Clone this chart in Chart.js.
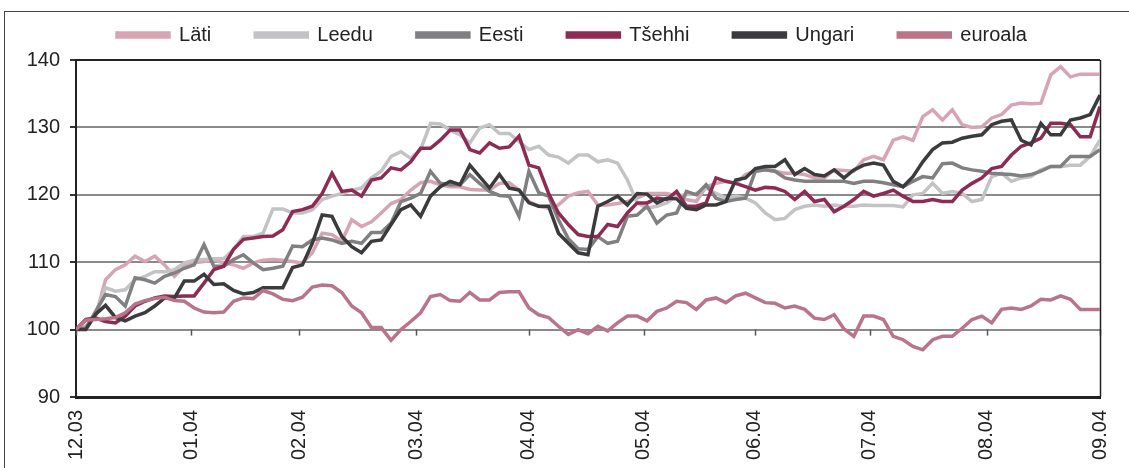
<!DOCTYPE html>
<html>
<head>
<meta charset="utf-8">
<script src="https://cdn.jsdelivr.net/npm/chart.js@4.4.1/dist/chart.umd.min.js"></script>
<style>
  body { margin: 0; background: #fff; }
  #wrap { position: relative; width: 1129px; height: 468px; overflow: hidden; }
  #frame { position: absolute; left: 4px; top: 11px; width: 1200px; height: 500px;
           border-top: 1.5px solid #444; border-left: 1.5px solid #444; pointer-events: none; }
</style>
</head>
<body>
<div id="wrap">
  <canvas id="myChart" width="1129" height="468"></canvas>
  <div id="frame"></div>
</div>
<script>
// kuu algused x-teljel (punkti indeksid)
const monthLabels = ['12.03', '01.04', '02.04', '03.04', '04.04', '05.04', '06.04', '07.04', '08.04', '09.04'];
const monthPos = [0, 11.69, 22.68, 34.57, 45.96, 57.65, 68.94, 80.63, 92.52, 104];
const yTicks = [90, 100, 110, 120, 130, 140];

const seriesNames = ['Läti', 'Leedu', 'Eesti', 'Tšehhi', 'Ungari', 'euroala'];
const seriesColors = ['#d6a4b2', '#c3c3c5', '#808083', '#8e2b55', '#3b3b3d', '#b97489'];

const lati = [100,100.5,102,107.4,108.9,109.6,110.9,110.1,110.9,109.6,107.9,109.4,109.9,110.1,110.3,109.9,109.6,109.1,109.9,110.3,110.4,110.3,110.1,109.9,111.4,114.3,114.1,
  113.1,116.3,115.3,116,117.3,118.7,119.3,120.7,121.8,122,121.5,121.2,121.2,120.8,120.7,120.7,121.7,121.8,120.7,119,118.3,118,118.5,119.8,120.3,120.5,
  118.5,118.5,118.7,119,119.5,120.2,120.2,120.2,119.8,119.3,119,121.2,121.7,122,121.7,123,123.5,123.7,123.5,123.2,123.2,123,122.5,122.5,123.7,123.6,
  123.5,125.2,125.7,125.2,128.1,128.6,128.1,131.6,132.6,131.1,132.6,130.4,130,130.1,131.4,131.9,133.3,133.6,133.5,133.6,137.8,139,137.5,137.9,137.9,137.9];

const leedu = [100,100.2,102.5,106.2,105.7,105.9,107.4,107.9,108.6,108.6,108.9,109.9,110.3,110.4,110.5,110.5,111.9,113.8,113.8,114.3,117.9,117.9,117.3,117.3,117.8,119.3,119.8,
  120.2,120.7,121,122.5,123.5,125.7,126.4,125.4,126.7,130.6,130.5,129.6,128.9,127.7,129.9,130.4,129.1,129.1,127.9,126.7,127.2,125.9,125.6,124.7,125.9,125.9,
  124.9,125.2,124.7,122.2,118.8,118,118.3,118.8,119.8,120,120.2,121,120.2,119.5,119.8,119.5,118.8,117.3,116.3,116.5,117.8,118.3,118.5,118.3,118.5,118.3,
  118.3,118.5,118.4,118.4,118.4,118.2,120,120.2,121.7,120.2,120.5,120.2,119,119.3,122.7,123.2,122,122.5,122.7,123.7,124.2,124.2,124.4,124.4,125.7,128.1];

const eesti = [100,100.2,102.7,105.2,104.9,103.5,107.7,107.4,106.9,107.9,108.4,109.1,109.6,112.6,109.4,109.4,110.4,111.1,109.9,108.9,109.1,109.4,112.4,112.3,113.3,113.6,113.3,
  112.8,113.1,112.8,114.4,114.4,115.8,119,119.5,120.2,123.5,121.7,121.5,121.5,123,121.7,120.5,119.9,119.8,116.8,123.5,120.3,119.8,116.3,113.5,112,111.9,
  113.8,112.8,113.1,116.8,117,118.3,115.8,117,117.3,120.5,120,121.5,119.5,119,119.3,119.5,123.5,123.7,123.5,122.5,122.2,122,122,122,122,122,
  121.7,122,122,121.8,121.5,121.2,122,122.7,122.5,124.6,124.7,124,123.7,123.5,123.2,123.1,123,122.8,123,123.5,124.2,124.2,125.7,125.7,125.7,126.7];

const tsehhi = [100,101.5,101.7,101.2,101,102,103.5,104.2,104.7,105,104.9,105,105,106.9,108.9,109.4,111.9,113.4,113.6,113.8,113.9,114.8,117.5,117.8,118.3,120.2,123.2,
  120.5,120.7,119.8,122.2,122.5,124,123.7,124.9,126.9,126.9,128.1,129.6,129.6,126.7,126.2,127.7,126.9,127.1,128.7,124.4,124,120.2,117.3,115.6,114.1,113.8,
  113.8,115.6,115.3,117.3,118.8,118.8,119.5,119.3,120.5,118.3,118.3,118.8,122.5,122,121.7,121.2,120.7,121.1,121,120.5,119.3,120.5,119,119.3,117.5,118.3,
  119.3,120.5,119.8,120.2,120.7,119.8,119,119,119.3,119,119,120.7,121.7,122.5,123.9,124.2,125.9,127.2,127.7,128.4,130.6,130.6,130.4,128.6,128.6,133.1];

const ungari = [100,100,102.3,103.6,101.8,101.3,102,102.5,103.5,104.7,104.7,107.2,107.2,108.2,106.7,106.8,105.8,105.3,105.5,106.2,106.2,106.2,109.2,109.6,112.8,117,116.8,
  113.8,112.3,111.4,113.1,113.3,115.6,117.8,118.5,116.8,119.8,121.2,122,121.5,124.4,122.7,121,123,121,120.7,118.8,118.3,118.3,114.3,112.8,111.4,111.1,
  118.3,119,119.8,118.5,120.2,120.1,118.8,119.5,119.4,118,117.8,118.5,118.5,119,122.2,122.5,123.9,124.2,124.2,125.2,123,123.9,123,122.8,123.7,122.5,
  123.7,124.4,124.7,124.4,122,121.2,122.7,124.9,126.7,127.7,127.8,128.4,128.7,128.9,130.4,130.9,131.1,128.1,127.4,130.6,128.9,128.9,131.1,131.4,131.9,134.8];

const euroala = [100,101.4,101.5,101.6,101.8,102.5,103.8,104.3,104.6,104.8,104.3,104.2,103.2,102.6,102.5,102.6,104.2,104.7,104.6,105.8,105.3,104.5,104.3,104.8,106.3,106.6,106.5,
  105.5,103.5,102.5,100.3,100.3,98.4,100,101.2,102.5,104.9,105.2,104.3,104.2,105.5,104.4,104.4,105.5,105.6,105.6,103.2,102.2,101.8,100.5,99.3,100,99.4,
  100.5,99.8,101,102,102,101.3,102.7,103.2,104.2,104,103,104.4,104.7,104,105,105.4,104.7,104,103.9,103.2,103.5,103,101.7,101.5,102.2,100.1,
  99,102,102,101.5,99,98.5,97.5,97,98.5,99,99,100.2,101.5,102,101,103,103.2,103,103.5,104.5,104.4,105,104.5,103,103,103];

const allSeries = [lati, leedu, eesti, tsehhi, ungari, euroala];

// legendi kõrgus fikseeritud, et graafiku ala algaks õigest kohast
const legendFix = {
  id: 'legendFix',
  afterInit(chart) {
    const leg = chart.legend;
    const origFit = leg.fit.bind(leg);
    leg.fit = function () { origFit(); this.height = 79; };
  },
  afterLayout(chart) {
    chart.legend.left += 10;
    chart.legend.right += 10;
  }
};

// x-telje kriipsud 100 joonel + parem serv
const axisMarks = {
  id: 'axisMarks',
  beforeDatasetsDraw(chart) {
    const { ctx, chartArea, scales: { x, y } } = chart;
    const y0 = y.getPixelForValue(100);
    ctx.save();
    ctx.strokeStyle = '#555';
    ctx.lineWidth = 1.5;
    monthPos.forEach(p => {
      const px = Math.round(x.getPixelForValue(p)) + 0.5;
      ctx.beginPath();
      ctx.moveTo(px, y0);
      ctx.lineTo(px, y0 + 6);
      ctx.stroke();
    });
    ctx.strokeStyle = '#222';
    ctx.beginPath();
    ctx.moveTo(chartArea.right + 0.5, chartArea.top);
    ctx.lineTo(chartArea.right + 0.5, chartArea.bottom);
    ctx.stroke();
    ctx.restore();
  }
};

const fontFamily = '"Liberation Sans", Arial, sans-serif';

const ctx = document.getElementById('myChart').getContext('2d');
const myChart = new Chart(ctx, {
  type: 'line',
  data: {
    datasets: allSeries.map((vals, i) => ({
      label: seriesNames[i],
      data: vals.map((v, j) => ({ x: j, y: v })),
      borderColor: seriesColors[i],
      backgroundColor: seriesColors[i],
      borderWidth: 3.5,
      pointRadius: 0,
      tension: 0,
      order: -i
    }))
  },
  options: {
    responsive: false,
    animation: false,
    events: [],
    layout: { padding: { left: 6, right: 11, top: -19, bottom: 0 } },
    plugins: {
      tooltip: { enabled: false },
      legend: {
        position: 'top',
        labels: {
          sort: (a, b) => a.datasetIndex - b.datasetIndex,
          boxWidth: 52,
          boxHeight: 4,
          padding: 44,
          color: '#222',
          font: { family: fontFamily, size: 20 }
        }
      }
    },
    scales: {
      x: {
        type: 'linear',
        min: 0,
        max: 104,
        afterBuildTicks: s => { s.ticks = monthPos.map(v => ({ value: v })); },
        afterFit: s => { s.height = 71; },
        grid: { display: false },
        border: { display: true, color: '#222', width: 3 },
        ticks: {
          autoSkip: false,
          maxRotation: 90,
          minRotation: 90,
          padding: 5,
          color: '#222',
          font: { family: fontFamily, size: 20 },
          callback: (v, idx) => monthLabels[idx]
        }
      },
      y: {
        min: 90,
        max: 140,
        afterBuildTicks: s => { s.ticks = yTicks.map(v => ({ value: v })); },
        afterFit: s => { s.width = 70; },
        grid: {
          color: c => (c.tick && c.tick.value === 140) ? '#222' : '#8a8a8a',
          lineWidth: 2,
          tickLength: 6,
          tickColor: '#333'
        },
        border: { display: true, color: '#222', width: 2 },
        ticks: {
          padding: 10,
          color: '#222',
          font: { family: fontFamily, size: 20 }
        }
      }
    }
  },
  plugins: [legendFix, axisMarks]
});
</script>
</body>
</html>
